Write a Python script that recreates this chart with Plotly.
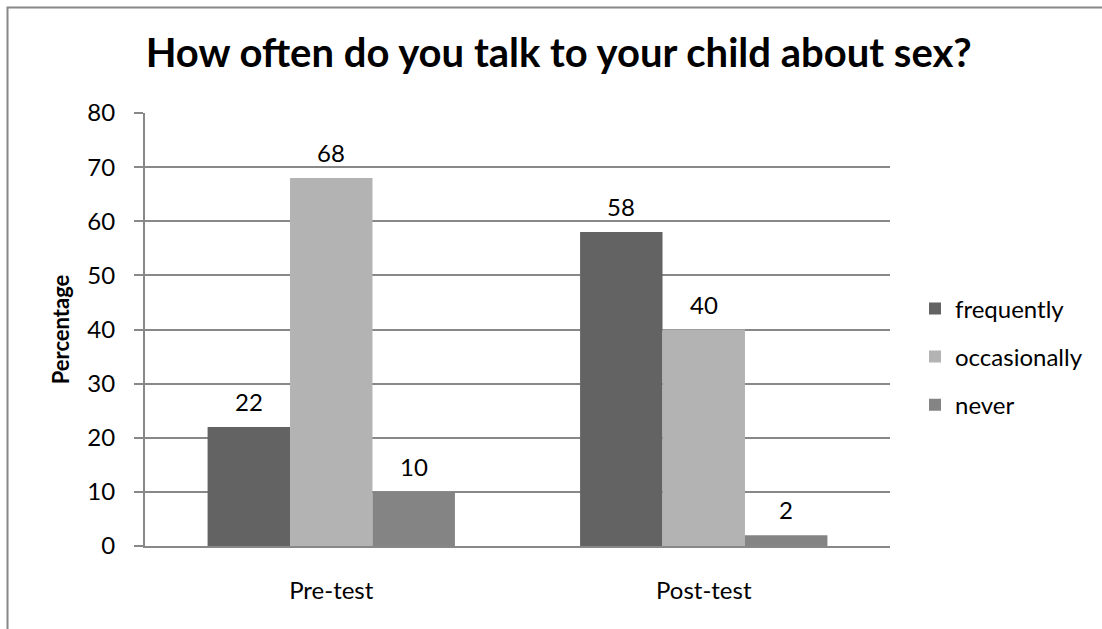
import plotly.graph_objects as go

categories = ["Pre-test", "Post-test"]
series_names = ["frequently", "occasionally", "never"]
frequently = [22, 58]
occasionally = [68, 40]
never = [10, 2]
series_values = [frequently, occasionally, never]
colors = ["#636363", "#b3b3b3", "#848484"]
y_ticks = [0, 10, 20, 30, 40, 50, 60, 70, 80]

W, H = 1102, 629
L, R, T, B = 145, 212, 113, 83
bargap = 0.336
FONT = "Lato"

fig = go.Figure()
for name, vals, col in zip(series_names, series_values, colors):
    fig.add_trace(go.Bar(x=categories, y=vals, name=name, marker=dict(color=col, line=dict(width=0)),
                         legendgroup=name))

plot_w = W - L - R
cat_px = plot_w / len(categories)
bar_px = cat_px * (1 - bargap) / len(series_names)
annotations = []
for k, vals in enumerate(series_values):
    for c, v in zip(categories, vals):
        annotations.append(dict(x=c, y=v, xref="x", yref="y", text=str(v), showarrow=False,
                                yanchor="bottom", xshift=(k - 1) * bar_px, yshift=9,
                                font=dict(family=FONT, size=24, color="black")))

fig.update_layout(
    width=W, height=H,
    margin=dict(l=L, r=R, t=T, b=B),
    paper_bgcolor="white", plot_bgcolor="white",
    barmode="group", bargap=bargap, bargroupgap=0,
    font=dict(family=FONT, size=24, color="black"),
    title=dict(text="<b>How often do you talk to your child about sex?</b>", x=0.507, xanchor="center",
               y=1 - 53 / H, yanchor="middle", font=dict(family=FONT, size=40, color="black")),
    xaxis=dict(showline=True, linecolor="#888888", linewidth=2, ticks="", tickfont=dict(size=24),
               ticklabelstandoff=22),
    yaxis=dict(range=[0, 80], tickvals=y_ticks, showgrid=True, gridcolor="#888888", gridwidth=2,
               showline=True, linecolor="#888888", linewidth=2, ticks="outside", ticklen=9,
               tickcolor="#888888", tickwidth=2, tickfont=dict(size=24), ticklabelstandoff=14,
               zeroline=False,
               title=dict(text="<b>Percentage</b>", font=dict(size=22), standoff=12)),
    legend=dict(x=(915 - L) / plot_w, y=0.437, xanchor="left", yanchor="middle",
                font=dict(size=24), tracegroupgap=14, bgcolor="rgba(0,0,0,0)"),
    annotations=annotations,
    shapes=[dict(type="rect", xref="paper", yref="paper",
                 x0=(7.5 - L) / plot_w, x1=(W + 20 - L) / plot_w,
                 y0=-(B + 20) / (H - T - B), y1=(H - B - 7.5) / (H - T - B),
                 line=dict(color="#888888", width=2), layer="below")],
)

fig.write_html("out.html")
